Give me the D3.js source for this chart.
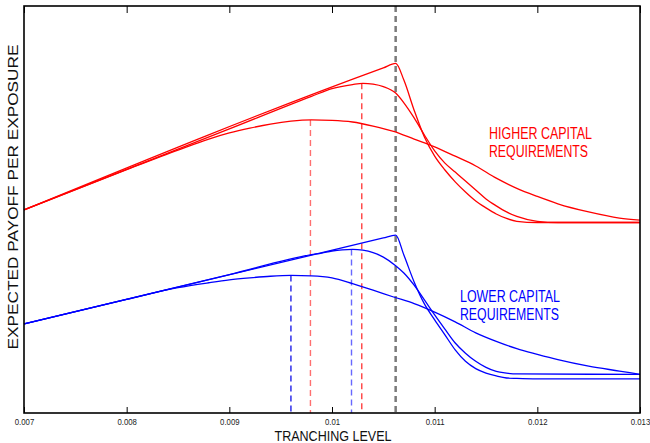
<!DOCTYPE html>
<html>
<head>
<meta charset="utf-8">
<script src="https://cdn.jsdelivr.net/npm/d3@7"></script>
<style>
  body { margin: 0; background: #fff; }
  text { font-family: "Liberation Sans", Arial, sans-serif; }
</style>
</head>
<body>
<div id="chart"></div>
<script>
//////tranching level vs expected payoff per exposure
//////two regimes: higher (red) and lower (blue) capital requirements

var xTicks = [0.007, 0.008, 0.009, 0.010, 0.011, 0.012, 0.013];
var xTickLabels = ["0.007", "0.008", "0.009", "0.01", "0.011", "0.012", "0.013"];

////higher capital requirements - [tranching level, payoff]
var redKink = [[0.007, 49.9], [0.0105, 84.8], [0.01062, 85.9], [0.0107, 81.8], [0.0108, 74.4], [0.0109, 67.8],
  [0.011, 63.1], [0.0111, 59.7], [0.0112, 56.8], [0.0113, 54.3], [0.0114, 52.1], [0.0115, 50.4], [0.0116, 48.9],
  [0.0117, 47.8], [0.0118, 47.1], [0.012, 46.8], [0.013, 46.8]];
var redMid = [[0.007, 49.9], [0.009, 69.8], [0.0098, 77.8], [0.01, 79.7], [0.0102, 80.7], [0.0103, 81.0], [0.0104, 80.8],
  [0.0105, 80.2], [0.01062, 78.6], [0.0107, 76.2], [0.0108, 72.5], [0.0109, 68.3], [0.011, 64.4], [0.0111, 61.4],
  [0.0112, 59.2], [0.0113, 57.0], [0.0114, 54.8], [0.0115, 52.6], [0.0116, 50.9], [0.0117, 49.4], [0.0118, 48.3],
  [0.012, 47.1], [0.0122, 46.8], [0.013, 46.8]];
var redSmooth = [[0.007, 49.9], [0.008, 59.8], [0.0085, 64.6], [0.0088, 67.3], [0.009, 68.8], [0.0092, 70.0],
  [0.0094, 71.0], [0.0096, 71.7], [0.0098, 72.0], [0.01, 71.9], [0.0102, 71.5], [0.0104, 70.5], [0.0106, 69.2],
  [0.0108, 67.3], [0.011, 65.4], [0.0112, 63.1], [0.0114, 60.7], [0.0116, 57.7], [0.0118, 55.2], [0.012, 53.2],
  [0.0122, 51.4], [0.0125, 49.4], [0.0128, 47.9], [0.013, 47.4]];

////lower capital requirements
var blueKink = [[0.007, 21.9], [0.0105, 43.0], [0.01062, 43.7], [0.0107, 38.8], [0.0108, 32.2], [0.0109, 26.8],
  [0.011, 22.9], [0.0111, 19.2], [0.0112, 15.5], [0.0113, 12.7], [0.0114, 10.9], [0.0115, 9.8], [0.0116, 9.1],
  [0.0117, 8.6], [0.0118, 8.5], [0.012, 8.4], [0.013, 8.4]];
var blueMid = [[0.007, 21.9], [0.009, 34.0], [0.0098, 38.9], [0.0099, 39.3], [0.01, 39.8], [0.0101, 40.1], [0.0102, 40.2],
  [0.0103, 40.0], [0.0104, 39.4], [0.0105, 38.3], [0.01062, 36.2], [0.0107, 34.4], [0.0108, 31.4], [0.0109, 27.8],
  [0.011, 24.1], [0.0111, 20.6], [0.0112, 17.2], [0.0113, 14.7], [0.0114, 12.7], [0.0115, 11.2], [0.0116, 10.2],
  [0.0117, 9.8], [0.0118, 9.6], [0.013, 9.5]];
var blueSmooth = [[0.007, 21.9], [0.008, 27.9], [0.0085, 30.8], [0.0088, 32.0], [0.009, 32.7], [0.0092, 33.2],
  [0.0094, 33.6], [0.0096, 33.8], [0.0098, 33.7], [0.01, 33.2], [0.0102, 31.8], [0.0104, 30.2], [0.0106, 28.5],
  [0.0108, 26.9], [0.011, 24.8], [0.0112, 22.4], [0.0114, 19.7], [0.0116, 17.6], [0.0118, 15.8], [0.012, 14.4],
  [0.0122, 13.1], [0.0125, 11.5], [0.0128, 10.3], [0.013, 9.5]];

////optimal tranching levels (dashed)
var kinkLevel = 0.01062;
var redOptima = [0.00979, 0.01029];
var blueOptima = [0.0096, 0.01019];

var margin = {top: 6, right: 10, bottom: 30, left: 24};
var width = 650 - margin.left - margin.right;
var height = 443 - margin.top - margin.bottom;

var svg = d3.select("#chart")
    .append("svg")
      .attr("width", 650)
      .attr("height", 443)
      .style("background", "#fff");

var g = svg.append("g")
    .attr("transform", "translate(" + margin.left + "," + margin.top + ")");

var x = d3.scaleLinear().domain([0.007, 0.013]).range([0, width]);
var y = d3.scaleLinear().domain([0, 100]).range([height, 0]);

var line = d3.line()
    .x(d => x(d[0]))
    .y(d => y(d[1]))
    .curve(d3.curveMonotoneX);

////dashed markers - gray at the kink, coloured at each curve's max
g.append("line")
    .attr("x1", x(kinkLevel)).attr("x2", x(kinkLevel))
    .attr("y1", 0).attr("y2", height)
    .style("stroke", "#7a7a7a")
    .style("stroke-width", 2.5)
    .style("stroke-dasharray", "6,4");

var optima = [
  {lvl: redOptima[0], data: redSmooth, color: "#ff7070"},
  {lvl: redOptima[1], data: redMid, color: "#ff4040"},
  {lvl: blueOptima[0], data: blueSmooth, color: "#2020e8"},
  {lvl: blueOptima[1], data: blueMid, color: "#6868ff"}
];

g.selectAll(".opt")
    .data(optima)
    .enter()
  .append("line")
    .attr("class", "opt")
    .attr("x1", d => x(d.lvl)).attr("x2", d => x(d.lvl))
    .attr("y1", d => y(d3.max(d.data, p => p[1])))
    .attr("y2", height)
    .style("stroke", d => d.color)
    .style("stroke-width", 1.4)
    .style("stroke-dasharray", "6,4");

////curves
var curves = [
  {data: redKink, color: "#ff0000"}, {data: redMid, color: "#ff0000"}, {data: redSmooth, color: "#ff0000"},
  {data: blueKink, color: "#0000ff"}, {data: blueMid, color: "#0000ff"}, {data: blueSmooth, color: "#0000ff"}
];

g.selectAll(".curve")
    .data(curves)
    .enter()
  .append("path")
    .attr("class", "curve")
    .attr("d", d => line(d.data))
    .style("fill", "none")
    .style("stroke", d => d.color)
    .style("stroke-width", 1.3);

////axes - ticks point inward, labels only at the bottom
var xAxis = g.append("g")
    .attr("transform", "translate(0," + height + ")")
    .call(d3.axisBottom(x)
      .tickValues(xTicks)
      .tickSizeInner(-6)
      .tickSizeOuter(0)
      .tickPadding(5)
      .tickFormat((d, i) => xTickLabels[i]));

xAxis.select(".domain").remove();
xAxis.selectAll("text")
    .attr("transform", "scale(0.82,1)")
    .style("font-size", "9.5px")
    .style("font-family", "'Liberation Sans', Arial, sans-serif")
    .style("fill", "#222");

var topAxis = g.append("g")
    .call(d3.axisTop(x)
      .tickValues(xTicks)
      .tickSizeInner(-7)
      .tickSizeOuter(0)
      .tickFormat(""));
topAxis.select(".domain").remove();

////frame
g.append("rect")
    .attr("width", width)
    .attr("height", height)
    .style("fill", "none")
    .style("stroke", "#000")
    .style("stroke-width", 1.6);

////axis titles
svg.append("text")
    .text("TRANCHING LEVEL")
    .attr("x", 333)
    .attr("y", 441)
    .attr("text-anchor", "middle")
    .attr("textLength", 117)
    .attr("lengthAdjust", "spacingAndGlyphs")
    .style("font-size", "14.5px")
    .style("fill", "#111");

svg.append("text")
    .text("EXPECTED PAYOFF PER EXPOSURE")
    .attr("transform", "translate(17.5,197) rotate(-90)")
    .attr("text-anchor", "middle")
    .attr("textLength", 305)
    .attr("lengthAdjust", "spacingAndGlyphs")
    .style("font-size", "14px")
    .style("fill", "#111");

////regime labels
var labels = [
  {t: "HIGHER CAPITAL", x: 489, y: 139, w: 103, c: "#ff0000"},
  {t: "REQUIREMENTS", x: 489, y: 157, w: 99, c: "#ff0000"},
  {t: "LOWER CAPITAL", x: 460, y: 302, w: 100, c: "#0000ff"},
  {t: "REQUIREMENTS", x: 460, y: 320, w: 99, c: "#0000ff"}
];

svg.selectAll(".lab")
    .data(labels)
    .enter()
  .append("text")
    .attr("class", "lab")
    .text(d => d.t)
    .attr("x", d => d.x)
    .attr("y", d => d.y)
    .attr("textLength", d => d.w)
    .attr("lengthAdjust", "spacingAndGlyphs")
    .style("font-size", "16px")
    .style("fill", d => d.c);
</script>
</body>
</html>
